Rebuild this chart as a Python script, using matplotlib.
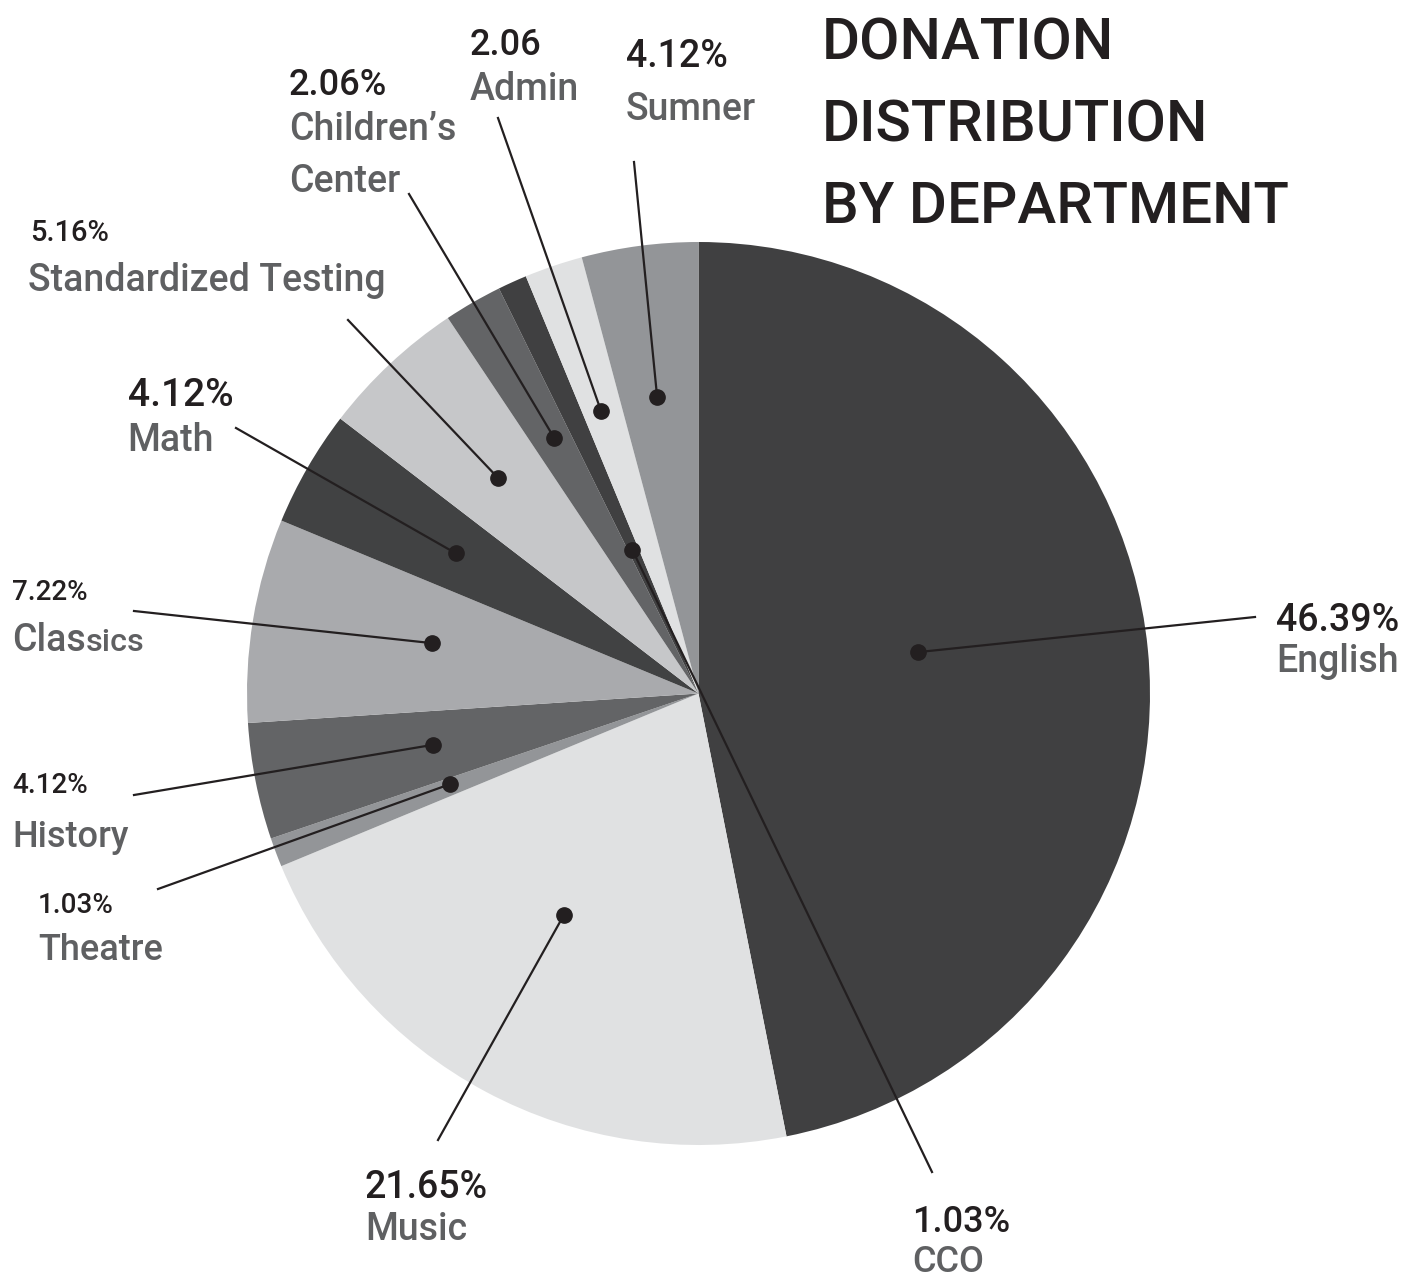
import numpy as np
import matplotlib
matplotlib.use("Agg")
import matplotlib.pyplot as plt

plt.rcParams['font.family'] = ['Roboto', 'DejaVu Sans']

# data, clockwise from 12 o'clock
departments = ['English', 'Music', 'Theatre', 'History', 'Classics', 'Math',
               'Standardized Testing', 'Children\u2019s Center', 'CCO', 'Admin', 'Sumner']
shares = [46.39, 21.65, 1.03, 4.12, 7.22, 4.12, 5.16, 2.06, 1.03, 2.06, 4.12]
pct_labels = ['46.39%', '21.65%', '1.03%', '4.12%', '7.22%', '4.12%',
              '5.16%', '2.06%', '1.03%', '2.06', '4.12%']
name_labels = ['English', 'Music', 'Theatre', 'History', 'Classics', 'Math',
               'Standardized Testing', 'Children\u2019s\nCenter', 'CCO', 'Admin', 'Sumner']

colors = ['#404041', '#e0e1e2', '#939598', '#636466', '#a9aaad', '#414243',
          '#c6c7c9', '#636466', '#404041', '#e0e1e2', '#939598']

W, H = 1428, 1278
def Y(y):
    return H - y

# layout (pixel coords, top-left origin)
# pct text (x, baseline, size), name text (x, baseline, size), line start
pct_pos = [(1276, 631, 27), (365, 1198, 27), (38, 913, 20), (12, 793, 20), (12, 600, 20),
           (128, 406, 28), (30, 241, 21), (289, 95, 26), (912, 1232, 26), (470, 55, 26), (626, 67, 27)]
name_pos = [(1276, 672, 27), (365, 1240, 27), (38, 960, 26), (12, 847, 26), (12, 651, 27),
            (127, 451, 27), (28, 291, 27), (289, 140, 27), (912, 1272, 26), (470, 100, 27), (626, 120, 27)]
line_start = [(1255, 617), (438, 1140), (158, 889), (134, 795), (134, 611),
              (236, 428), (348, 320), (409, 194), (932, 1172), (498, 118), (634, 162)]
# dot placement: fraction through wedge (clockwise), fraction of radius
dot_frac = [0.47, 0.54, 0.65, 0.52, 0.55, 0.5, 0.51, 0.57, 0.4, 0.46, 0.47]
dot_r = [0.494, 0.575, 0.587, 0.599, 0.601, 0.621, 0.652, 0.649, 0.35, 0.662, 0.663]

ink = '#231f20'
grey_txt = '#5f6062'

fig = plt.figure(figsize=(W / 100, H / 100), dpi=100)
ax = fig.add_axes([0, 0, 1, 1])

cx, cy, R = 698.5, Y(693.5), 451.5
wedges, _ = ax.pie(shares, colors=colors, startangle=90, counterclock=False,
                   center=(cx, cy), radius=R, wedgeprops=dict(linewidth=0))
ax.set_xlim(0, W)
ax.set_ylim(0, H)
ax.set_aspect('equal')
ax.axis('off')

renderer = fig.canvas.get_renderer()

for i, w in enumerate(wedges):
    ang = np.deg2rad(w.theta2 - dot_frac[i] * (w.theta2 - w.theta1))
    dx = cx + dot_r[i] * R * np.cos(ang)
    dy = cy + dot_r[i] * R * np.sin(ang)
    lx, ly = line_start[i]
    ax.plot([lx, dx], [Y(ly), dy], color=ink, lw=1.6, zorder=3)
    ax.plot(dx, dy, 'o', color=ink, ms=11, zorder=4)

    px, pb, ps = pct_pos[i]
    ax.text(px, Y(pb), pct_labels[i], fontsize=ps, color=ink, weight='medium',
            ha='left', va='baseline')
    nx, nb, ns = name_pos[i]
    kw = dict(color=grey_txt, weight='medium', ha='left', va='baseline')
    if name_labels[i] == 'Classics':
        t = ax.text(nx, Y(nb), 'Clas', fontsize=ns, **kw)
        x_end = t.get_window_extent(renderer).x1
        ax.text(x_end, Y(nb), 'sics', fontsize=ns * 0.86, **kw)
    elif '\n' in name_labels[i]:
        first, second = name_labels[i].split('\n')
        ax.text(nx, Y(nb), first, fontsize=ns, **kw)
        ax.text(nx, Y(nb + 52), second, fontsize=ns, **kw)
    else:
        ax.text(nx, Y(nb), name_labels[i], fontsize=ns, **kw)

title_lines = ['DONATION', 'DISTRIBUTION', 'BY DEPARTMENT']
for k, line in enumerate(title_lines):
    ax.text(822, Y(59 + 82 * k), line, fontsize=42, color=ink, weight='medium',
            ha='left', va='baseline')

fig.savefig('out.png', dpi=100, facecolor='white')
